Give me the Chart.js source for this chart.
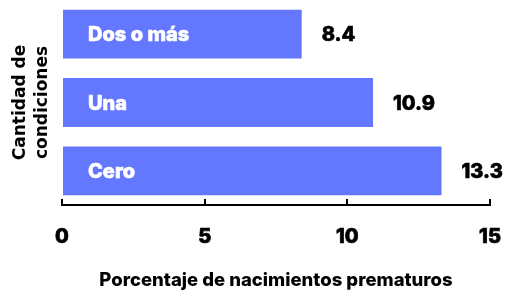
<!DOCTYPE html>
<html>
<head>
<meta charset="utf-8">
<script src="https://cdn.jsdelivr.net/npm/chart.js@4"></script>
<style>
html,body{margin:0;padding:0;background:#fff;}
#wrap{width:505px;height:290px;position:relative;}
</style>
</head>
<body>
<div id="wrap"><canvas id="c" width="505" height="290"></canvas></div>
<script>
const categories = ['Dos o más', 'Una', 'Cero'];
const values = [8.4, 10.9, 13.3];
const valueLabels = ['8.4', '10.9', '13.3'];
const xTicks = [0, 5, 10, 15];
const xTitle = 'Porcentaje de nacimientos prematuros';
const yTitle = ['Cantidad de', 'condiciones'];

const FONT = 'Inter, "Liberation Sans", Arial, sans-serif';
Chart.defaults.font.family = FONT;
Chart.defaults.color = '#000';

const labelPlugin = {
  id: 'labels',
  afterDatasetsDraw(chart) {
    const ctx = chart.ctx;
    const meta = chart.getDatasetMeta(0);
    ctx.save();
    ctx.textBaseline = 'middle';
    ctx.textAlign = 'left';
    ctx.lineWidth = 0.6;
    ctx.lineJoin = 'round';
    meta.data.forEach((bar, i) => {
      const p = bar.getProps(['x', 'y', 'base'], true);
      ctx.font = '800 20px ' + FONT;
      ctx.fillStyle = '#fff';
      ctx.strokeStyle = '#fff';
      ctx.fillText(categories[i], p.base + 25, p.y + 1);
      ctx.strokeText(categories[i], p.base + 25, p.y + 1);
      ctx.fillStyle = '#000';
      ctx.strokeStyle = '#000';
      ctx.fillText(valueLabels[i], p.x + 20, p.y + 1);
      ctx.strokeText(valueLabels[i], p.x + 20, p.y + 1);
    });
    ctx.restore();
  },
  afterDraw(chart) {
    const s = chart.scales.x;
    const ctx = chart.ctx;
    ctx.save();
    ctx.fillStyle = '#000';
    s.ticks.forEach(t => {
      const px = Math.round(s.getPixelForValue(t.value));
      ctx.fillRect(px - 1, s.top - 6, 2, 7);
    });
    ctx.restore();
  }
};

new Chart(document.getElementById('c'), {
  type: 'bar',
  data: {
    labels: categories,
    datasets: [{
      data: values,
      backgroundColor: '#6377ff',
      borderWidth: 0,
      barPercentage: 0.715,
      categoryPercentage: 1
    }]
  },
  options: {
    indexAxis: 'y',
    responsive: false,
    animation: false,
    devicePixelRatio: 1,
    layout: { padding: { left: 0, right: 15, top: 0, bottom: 0 } },
    plugins: { legend: { display: false }, tooltip: { enabled: false } },
    scales: {
      x: {
        min: 0, max: 15,
        afterBuildTicks(scale) { scale.ticks = xTicks.map(v => ({ value: v })); },
        grid: { display: true, drawOnChartArea: false, drawTicks: false, lineWidth: 2, color: '#000' },
        border: { display: true, color: '#000', width: 2 },
        ticks: { font: { size: 20, weight: '800' }, color: '#000', padding: 20, maxRotation: 0, textStrokeColor: '#000', textStrokeWidth: 0.7 },
        title: { display: true, text: xTitle, font: { size: 18.5, weight: '800', lineHeight: 1 }, color: '#000', padding: { top: 0, bottom: 0 } },
        afterFit(scale) { scale.height = 85; scale.paddingLeft = 0; scale.paddingRight = 0; }
      },
      y: {
        grid: { display: false },
        border: { display: false },
        ticks: { display: false },
        title: { display: true, text: yTitle, font: { family: '"DejaVu Sans", sans-serif', size: 17, weight: 'bold', lineHeight: '22px' }, color: '#000', padding: { top: 10, bottom: 8 } },
        afterFit(scale) { scale.width = 62; scale.paddingTop = 0; scale.paddingBottom = 0; }
      }
    }
  },
  plugins: [labelPlugin]
});
</script>
</body>
</html>
